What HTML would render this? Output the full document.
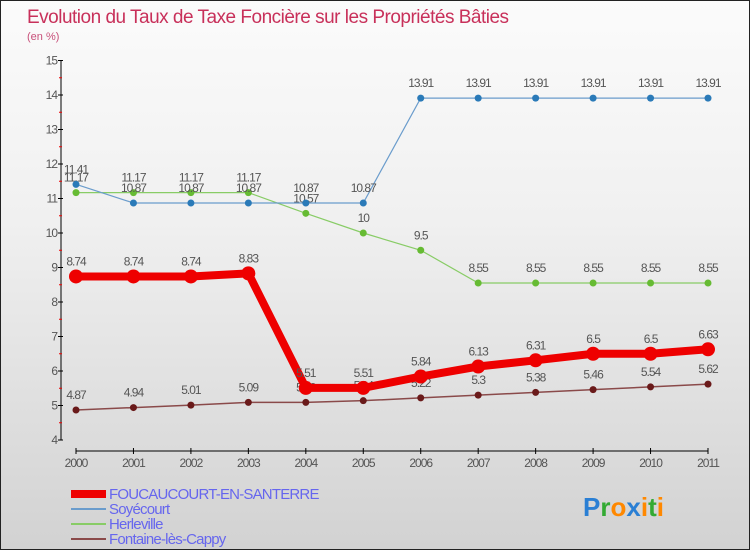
<!DOCTYPE html>
<html><head><meta charset="utf-8"><style>
body{margin:0}
#c{width:748px;height:548px;border:1px solid #222;background:linear-gradient(#fbfbfb,#f0f0f0 40%,#d2d2d2);position:relative;overflow:hidden;font-family:"Liberation Sans",sans-serif}
text{font-family:"Liberation Sans",sans-serif}
</style></head><body>
<div id="c">
<svg id="s" width="748" height="548">
<text x="26" y="22" font-size="19" fill="#c8305a" letter-spacing="-0.5">Evolution du Taux de Taxe Foncière sur les Propriétés Bâties</text>
<text x="26" y="39" font-size="11" fill="#c8507a">(en %)</text>
<g id="axes"></g><g id="series"></g>
<g>
<rect x="70" y="489" width="35" height="8" fill="#ee0000"/>
<text x="108" y="498" font-size="15" fill="#6666ee" letter-spacing="-0.8">FOUCAUCOURT-EN-SANTERRE</text>
<rect x="70" y="507" width="35" height="2" fill="#6a9ccc"/>
<text x="108" y="513" font-size="15" fill="#6666ee" letter-spacing="-0.8">Soyécourt</text>
<rect x="70" y="522" width="35" height="2" fill="#88cc66"/>
<text x="108" y="528" font-size="15" fill="#6666ee" letter-spacing="-0.8">Herleville</text>
<rect x="70" y="537" width="35" height="2" fill="#8a4a4a"/>
<text x="108" y="543" font-size="15" fill="#6666ee" letter-spacing="-0.8">Fontaine-lès-Cappy</text>
</g>
<text x="582" y="515" font-size="26" font-weight="bold"><tspan fill="#2a7fd4">P</tspan><tspan fill="#33aa33">r</tspan><tspan fill="#ff8800">o</tspan><tspan fill="#2a7fd4">x</tspan><tspan fill="#ff8800">i</tspan><tspan fill="#33aa33">t</tspan><tspan fill="#ff8800">i</tspan></text>
</svg></div>
<script>
const years=[2000,2001,2002,2003,2004,2005,2006,2007,2008,2009,2010,2011];
const yTicks=[4,5,6,7,8,9,10,11,12,13,14,15];
const foucaucourt=[8.74,8.74,8.74,8.83,5.51,5.51,5.84,6.13,6.31,6.5,6.5,6.63];
const soyecourt=[11.41,10.87,10.87,10.87,10.87,10.87,13.91,13.91,13.91,13.91,13.91,13.91];
const herleville=[11.17,11.17,11.17,11.17,10.57,10,9.5,8.55,8.55,8.55,8.55,8.55];
const fontaine=[4.87,4.94,5.01,5.09,5.09,5.14,5.22,5.3,5.38,5.46,5.54,5.62];
const NS='http://www.w3.org/2000/svg';
const X=i=>75+i*(707-75)/(years.length-1);
const Y=v=>439-(v-4)*34.5;
function mk(t,a,p){const e=document.createElementNS(NS,t);for(const k in a)e.setAttribute(k,a[k]);p.appendChild(e);return e;}
const ax=document.getElementById('axes');
mk('line',{x1:60,y1:Y(15),x2:60,y2:Y(4),stroke:'#000','stroke-width':1},ax);
mk('line',{x1:X(0),y1:450,x2:X(11),y2:450,stroke:'#000','stroke-width':1},ax);
yTicks.forEach(v=>{
 mk('line',{x1:57,y1:Y(v),x2:62,y2:Y(v),stroke:'#000'},ax);
 if(v<15) mk('line',{x1:58,y1:Y(v+0.5),x2:61,y2:Y(v+0.5),stroke:'#e00'},ax);
 const t=mk('text',{x:56,y:Y(v)+4,'font-size':12,fill:'#555','text-anchor':'end','letter-spacing':'-1'},ax);
 t.textContent=v;
 
 
});
years.forEach((y,i)=>{
 mk('line',{x1:X(i),y1:447,x2:X(i),y2:453,stroke:'#000'},ax);
 const t=mk('text',{x:X(i),y:466,'font-size':12,fill:'#555','text-anchor':'middle','letter-spacing':'-1'},ax);
 t.textContent=y;
 
 
});
const sg=document.getElementById('series');
function series(name,vals,color,dot,w,r){
 const g=mk('g',{},sg);
 
 
 mk('polyline',{points:vals.map((v,i)=>X(i)+','+Y(v)).join(' '),fill:'none',stroke:color,'stroke-width':w},g);
 vals.forEach((v,i)=>{
  const c=mk('circle',{cx:X(i),cy:Y(v),r:r,fill:dot},g);
  
  
  const t=mk('text',{x:X(i),y:Y(v)-11,'font-size':12,fill:'#555','text-anchor':'middle','letter-spacing':'-1'},g);
  t.textContent=v;
  
  
 });
}
series('fontaine',fontaine,'#8a4a4a','#6a1a1a',1.5,3.5);
series('herleville',herleville,'#88cc66','#66bb33',1.2,3.5);
series('soyecourt',soyecourt,'#6a9ccc','#2a7ab8',1.2,3.5);
series('foucaucourt',foucaucourt,'#ee0000','#ee0000',8,7);
</script>
</body></html>
